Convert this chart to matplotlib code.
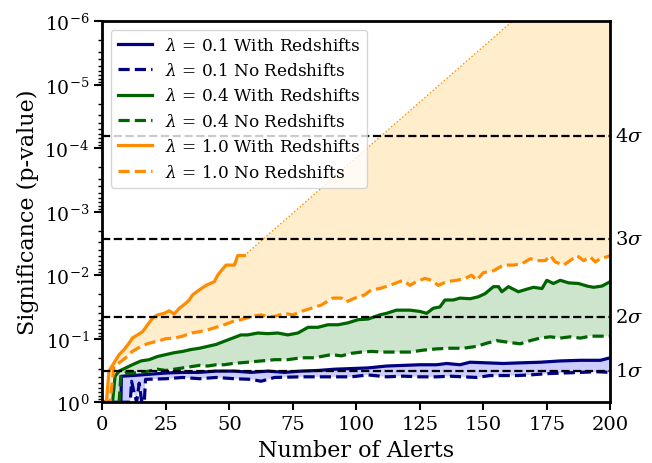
import numpy as np
import matplotlib
matplotlib.use("Agg")
import matplotlib.pyplot as plt

plt.rcParams['font.family'] = 'DejaVu Serif'
plt.rcParams['mathtext.fontset'] = 'dejavuserif'

# (number of alerts, -log10 p)
blue_with = [(0, 0), (7.3, 0), (7.5, 0.41), (12, 0.42), (18.4, 0.44), (25, 0.46), (31.6, 0.47), (38.2, 0.47),
             (44.8, 0.49), (52, 0.49), (58.6, 0.47), (65.1, 0.49), (71.7, 0.47), (78.3, 0.49), (84.9, 0.5),
             (91.5, 0.52), (98.1, 0.53), (104.6, 0.54), (111.9, 0.57), (118.4, 0.58), (125, 0.59), (131.6, 0.59),
             (135.6, 0.61), (140.8, 0.59), (144.8, 0.63), (151.4, 0.62), (157.9, 0.61), (164.5, 0.62),
             (172.4, 0.63), (180.3, 0.65), (188.2, 0.66), (196.1, 0.66), (200, 0.7)]
blue_no = [(0, 0), (11, 0), (11.5, 0.33), (12.5, 0.15), (13.5, 0), (14.5, 0.3), (15.5, 0), (16.5, 0), (17, 0.36),
           (25, 0.37), (31.6, 0.39), (38.2, 0.37), (44.8, 0.39), (52, 0.37), (58.6, 0.36), (62.5, 0.33),
           (67.8, 0.39), (78.3, 0.4), (86.2, 0.4), (91.5, 0.4), (98.1, 0.4), (104.6, 0.43), (111.9, 0.4),
           (118.4, 0.41), (125, 0.4), (131.6, 0.4), (136.9, 0.41), (142.1, 0.4), (147.4, 0.39), (152.7, 0.42),
           (157.9, 0.42), (163.2, 0.42), (168.5, 0.43), (175.1, 0.45), (181.6, 0.46), (188.2, 0.47),
           (194.7, 0.48), (200, 0.47)]
green_with = [(0, 0), (4, 0), (5, 0.41), (6.6, 0.49), (9.2, 0.54), (11.8, 0.59), (15.2, 0.65), (18.4, 0.67),
              (21.7, 0.72), (25, 0.75), (28.3, 0.78), (31.6, 0.8), (34.9, 0.83), (38.2, 0.85), (41.5, 0.88),
              (44.8, 0.91), (48, 0.96), (51.3, 1.01), (54.6, 1.06), (57.2, 1.06), (61.2, 1.09), (65.1, 1.08),
              (69.1, 1.09), (73, 1.06), (77, 1.09), (81, 1.18), (84.9, 1.18), (88.8, 1.22), (92.8, 1.22),
              (96.7, 1.25), (100.7, 1.3), (104.6, 1.31), (109.2, 1.375), (111.9, 1.4), (115.8, 1.45),
              (121.1, 1.45), (125, 1.43), (127.7, 1.4), (130.3, 1.48), (132.9, 1.5), (134.9, 1.61),
              (138.2, 1.61), (140.8, 1.64), (144.8, 1.63), (148, 1.66), (150.7, 1.71), (154, 1.82), (156, 1.82),
              (157.3, 1.74), (159.9, 1.82), (163.8, 1.74), (167.1, 1.78), (169.8, 1.81), (173.1, 1.79),
              (175, 1.92), (177.6, 1.87), (180.3, 1.92), (183.6, 1.88), (187.5, 1.87), (190.8, 1.83),
              (193.4, 1.81), (196.8, 1.83), (200, 1.9)]
green_no = [(0, 0), (6.6, 0), (7.3, 0.44), (9.2, 0.46), (12, 0.46), (15.2, 0.47), (18.4, 0.49), (21.7, 0.52),
            (25, 0.5), (28.3, 0.52), (31.6, 0.54), (34.9, 0.56), (38.2, 0.58), (41.5, 0.57), (44.8, 0.59),
            (48, 0.59), (51.3, 0.61), (57.2, 0.63), (62.5, 0.65), (67.8, 0.67), (73, 0.67), (78.3, 0.7),
            (83.6, 0.7), (86.2, 0.72), (90.2, 0.75), (94.1, 0.73), (98.1, 0.77), (102, 0.79), (106, 0.8),
            (110.5, 0.79), (115.8, 0.79), (121.1, 0.79), (126.3, 0.82), (131.6, 0.84), (136.9, 0.85),
            (142.1, 0.85), (147.4, 0.88), (151.4, 0.93), (155.3, 0.97), (160.5, 0.94), (164.5, 0.92),
            (168.5, 0.97), (172.4, 1.01), (176.4, 1.03), (180.3, 1.01), (184.2, 1.03), (188.2, 1.01),
            (192.1, 1.04), (196.1, 1.04), (200, 1.04)]
orange_with = [(0, 0), (1.6, 0), (2.6, 0.49), (4.6, 0.62), (6.6, 0.75), (8.6, 0.83), (10.5, 0.93), (11.8, 1.01),
               (13.8, 1.06), (15.8, 1.11), (17.8, 1.22), (19.7, 1.32), (21.7, 1.375), (24.4, 1.4), (26.3, 1.44),
               (28.3, 1.39), (30.3, 1.48), (32.9, 1.56), (34.2, 1.61), (35.5, 1.69), (38.2, 1.77), (40.8, 1.84),
               (44.1, 1.9), (45.4, 2.0), (47.4, 2.1), (48.7, 2.16), (51.3, 2.16), (52, 2.16), (53.3, 2.31),
               (55.9, 2.31)]
orange_no = [(0, 0), (3, 0), (4.6, 0.57), (6.6, 0.62), (9.2, 0.7), (11.8, 0.8), (15.2, 0.88), (18.4, 0.93),
             (21.7, 0.96), (25, 1.0), (28.3, 1.01), (31.6, 1.04), (34.9, 1.09), (38.2, 1.11), (41.5, 1.14),
             (44.8, 1.18), (48, 1.22), (51.3, 1.27), (54.6, 1.3), (58.6, 1.35), (62.5, 1.375), (65.1, 1.35),
             (67.8, 1.35), (71.7, 1.4), (75, 1.375), (78.3, 1.43), (82.3, 1.48), (86.2, 1.53), (90.8, 1.64),
             (94.1, 1.64), (96.1, 1.58), (99.4, 1.64), (103.3, 1.69), (105.9, 1.77), (109.2, 1.79),
             (113.2, 1.84), (118.4, 1.92), (121.1, 1.84), (123.7, 1.9), (127, 1.95), (129.6, 1.92),
             (132.3, 1.84), (135.6, 1.9), (139.5, 1.92), (142.8, 1.95), (145.4, 2.0), (147.4, 1.92), (150, 2.04),
             (154, 2.07), (157.9, 2.16), (161.9, 2.16), (165.2, 2.18), (168.5, 2.26), (171.1, 2.23),
             (174.4, 2.23), (176.4, 2.31), (178.3, 2.21), (181.6, 2.16), (184.2, 2.23), (186.9, 2.31),
             (189.5, 2.23), (192.1, 2.29), (194.1, 2.21), (196.1, 2.26), (198.7, 2.29), (200, 2.31)]
orange_extrap = [(55.9, 2.31), (200, 7.35)]

sigma_labels = ['1', '2', '3', '4']
sigma_p = [0.3173, 0.0455, 0.0027, 6.3e-5]

series = [
    ('0.1', blue_with, blue_no, 'navy', 'blue'),
    ('0.4', green_with, green_no, 'darkgreen', 'green'),
    ('1.0', orange_with, orange_no, 'darkorange', 'orange'),
]


def xp(pts):
    a = np.array(pts, dtype=float)
    return a[:, 0], 10.0 ** (-a[:, 1])


fig, ax = plt.subplots(figsize=(6.52, 4.64), dpi=100)
fig.subplots_adjust(left=0.157, right=0.936, bottom=0.131, top=0.952)

for lam, w, n, c, fc in series:
    xw, pw = xp(w)
    xn, pn = xp(n)
    if lam == '1.0':
        xe, pe = xp(orange_extrap)
        ax.plot(xe, pe, ':', color=c, lw=1)
        xw_f = np.concatenate([xw, xe[1:]])
        pw_f = np.concatenate([pw, pe[1:]])
    else:
        xw_f, pw_f = xw, pw
    ax.fill(np.concatenate([xw_f, xn[::-1]]), np.concatenate([pw_f, pn[::-1]]),
            color=fc, alpha=0.2, lw=0)
    ax.plot(xw, pw, '-', color=c, lw=2.3, label=r'$\lambda$ = %s With Redshifts' % lam)
    ax.plot(xn, pn, '--', color=c, lw=2.3, dashes=(3.5, 1.6), label=r'$\lambda$ = %s No Redshifts' % lam)

for s, p in zip(sigma_labels, sigma_p):
    ax.axhline(p, color='black', ls='--', lw=1.6)
    ax.text(1.01, p, r'$%s\sigma$' % s, transform=ax.get_yaxis_transform(),
            va='center', ha='left', fontsize=14)

ax.set_yscale('log')
ax.set_ylim(1, 1e-6)
ax.set_xlim(0, 200)
ax.set_xticks(np.arange(0, 201, 25))
ax.set_xlabel('Number of Alerts', fontsize=16)
ax.set_ylabel('Significance (p-value)', fontsize=16)
ax.tick_params(axis='x', which='major', labelsize=14, width=1.5, length=6)
ax.tick_params(axis='y', which='major', labelsize=13.5, width=1.5, length=6)
ax.tick_params(axis='both', which='minor', width=1, length=3)
for sp in ax.spines.values():
    sp.set_linewidth(2)

ax.legend(loc='upper left', fontsize=12.2)

plt.savefig('out.png', dpi=100)
